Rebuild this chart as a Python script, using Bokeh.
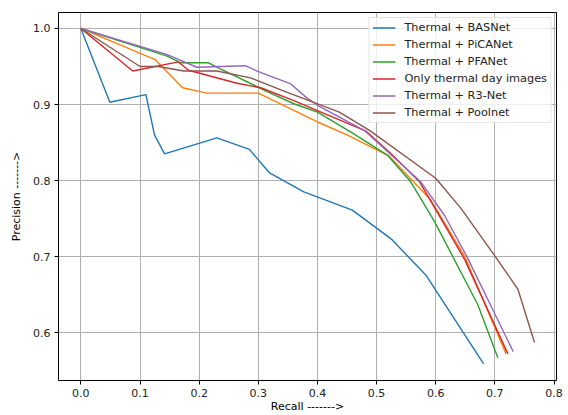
from bokeh.plotting import figure
from bokeh.models import Range1d, FixedTicker, Legend, LegendItem, NumeralTickFormatter
from bokeh.embed import file_html
from bokeh.resources import INLINE

names = ["Thermal + BASNet", "Thermal + PiCANet", "Thermal + PFANet",
         "Only thermal day images", "Thermal + R3-Net", "Thermal + Poolnet"]
colors = ["#1f77b4", "#ff7f0e", "#2ca02c", "#d62728", "#9467bd", "#8c564b"]

basnet_recall = [0.0, 0.049, 0.110, 0.1245, 0.1415, 0.230, 0.285, 0.319, 0.377, 0.459, 0.525, 0.584, 0.681]
basnet_prec = [1.0, 0.903, 0.913, 0.860, 0.835, 0.856, 0.841, 0.810, 0.785, 0.761, 0.723, 0.675, 0.559]

picanet_recall = [0.0, 0.1256, 0.172, 0.213, 0.300, 0.400, 0.450, 0.5215, 0.592, 0.649, 0.719]
picanet_prec = [1.0, 0.959, 0.922, 0.915, 0.915, 0.877, 0.860, 0.832, 0.774, 0.700, 0.572]

pfanet_recall = [0.0, 0.145, 0.168, 0.215, 0.236, 0.315, 0.360, 0.400, 0.456, 0.519, 0.558, 0.598, 0.671, 0.705]
pfanet_prec = [1.0, 0.964, 0.955, 0.955, 0.947, 0.917, 0.901, 0.890, 0.864, 0.833, 0.798, 0.746, 0.637, 0.567]

thermal_recall = [0.0, 0.0877, 0.165, 0.182, 0.264, 0.304, 0.360, 0.482, 0.525, 0.573, 0.649, 0.722]
thermal_prec = [1.0, 0.944, 0.956, 0.945, 0.928, 0.922, 0.905, 0.865, 0.835, 0.798, 0.696, 0.572]

r3net_recall = [0.0, 0.145, 0.196, 0.278, 0.298, 0.355, 0.380, 0.400, 0.479, 0.575, 0.615, 0.654, 0.731]
r3net_prec = [1.0, 0.966, 0.949, 0.951, 0.944, 0.927, 0.910, 0.899, 0.866, 0.798, 0.754, 0.698, 0.575]

poolnet_recall = [0.0, 0.100, 0.131, 0.174, 0.230, 0.287, 0.349, 0.437, 0.488, 0.600, 0.643, 0.699, 0.739, 0.767]
poolnet_prec = [1.0, 0.950, 0.950, 0.944, 0.944, 0.935, 0.916, 0.890, 0.866, 0.803, 0.763, 0.702, 0.657, 0.587]

x_ticks = [0.0, 0.1, 0.2, 0.3, 0.4, 0.5, 0.6, 0.7, 0.8]
y_ticks = [0.6, 0.7, 0.8, 0.9, 1.0]

series = [(basnet_recall, basnet_prec), (picanet_recall, picanet_prec), (pfanet_recall, pfanet_prec),
          (thermal_recall, thermal_prec), (r3net_recall, r3net_prec), (poolnet_recall, poolnet_prec)]

FONT = "DejaVu Sans"

p = figure(width=568, height=415, output_backend="svg", toolbar_location=None,
           x_range=Range1d(-0.0378, 0.8042), y_range=Range1d(0.537, 1.021),
           min_border_left=58, min_border_right=12, min_border_top=12, min_border_bottom=33)
p.background_fill_color = "white"
p.border_fill_color = "white"
p.outline_line_color = "black"
p.outline_line_width = 1

items = []
for (xs, ys), name, c in zip(series, names, colors):
    r = p.line(xs, ys, line_color=c, line_width=1.4)
    items.append(LegendItem(label=name, renderers=[r]))

for ax in (p.xaxis[0], p.yaxis[0]):
    ax.major_label_text_font = FONT
    ax.major_label_text_font_size = "11px"
    ax.major_label_text_color = "#222222"
    ax.axis_label_text_font = FONT
    ax.axis_label_text_font_size = "11px"
    ax.axis_label_text_font_style = "normal"
    ax.axis_label_text_color = "black"
    ax.minor_tick_line_color = None
    ax.major_tick_out = 4
    ax.major_tick_in = 0
    ax.axis_line_color = None
    ax.formatter = NumeralTickFormatter(format="0.0")

p.xaxis.major_label_standoff = 4
p.xaxis.axis_label_standoff = 0
p.yaxis.major_label_standoff = 4
p.yaxis.axis_label_standoff = 7

p.xaxis.ticker = FixedTicker(ticks=x_ticks)
p.yaxis.ticker = FixedTicker(ticks=y_ticks)
p.xaxis.axis_label = "Recall ------->"
p.yaxis.axis_label = "Precision ------->"

p.xgrid.ticker = FixedTicker(ticks=x_ticks)
p.ygrid.ticker = FixedTicker(ticks=y_ticks)
for g in (p.xgrid[0], p.ygrid[0]):
    g.grid_line_color = "#b0b0b0"
    g.grid_line_width = 1

legend = Legend(items=items, location="top_right")
legend.label_text_font = FONT
legend.label_text_font_size = "11.3px"
legend.label_text_color = "#222222"
legend.border_line_color = "#cccccc"
legend.background_fill_alpha = 0.8
legend.glyph_width = 23
legend.glyph_height = 13
legend.label_height = 13
legend.spacing = 4
legend.padding = 3
legend.margin = 5
legend.label_standoff = 9
p.add_layout(legend)

open("out.html", "w").write(file_html(p, INLINE))
